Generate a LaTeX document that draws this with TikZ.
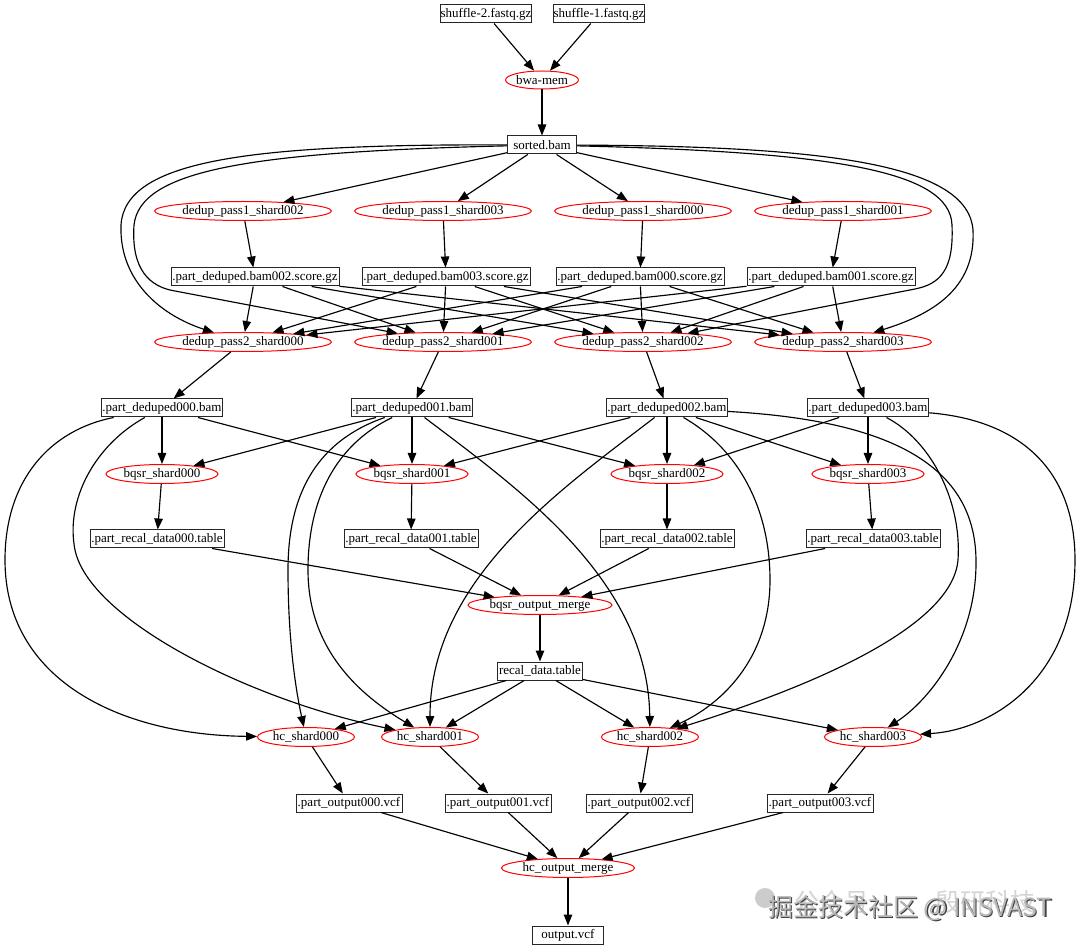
\documentclass[tikz,border=0pt]{standalone}
\usepackage{fontspec}
\setmainfont{Liberation Serif}
\newfontfamily\cjkwm{Noto Sans CJK SC}
\usetikzlibrary{arrows.meta,shapes.geometric}
\newcommand{\gvfont}{\fontsize{13}{15}\selectfont}
\tikzset{
  file/.style={draw=black!85, line width=1pt, rectangle, inner xsep=0.5pt, inner ysep=1pt, minimum height=18pt, font=\gvfont},
  task/.style={draw=red, line width=1pt, ellipse, inner xsep=-4pt, inner ysep=0pt, minimum height=19pt, font=\gvfont},
  link/.style={draw, line width=1.15pt, -{Triangle[length=11pt,width=8.5pt]}},
  wmark/.style={font=\cjkwm\fontsize{25}{25}\selectfont, inner sep=0pt},
}
\begin{document}
\begin{tikzpicture}[x=1pt,y=-1pt]
\useasboundingbox (0,0) rectangle (1080,949);

% ---------- nodes ----------
\node[file, minimum width=90pt] (shuf2) at (486,14) {shuffle-2.fastq.gz};
\node[file, minimum width=91pt] (shuf1) at (599,14) {shuffle-1.fastq.gz};
\node[task, minimum width=73pt, minimum height=18pt] (bwa) at (542,80) {bwa-mem};
\node[file, minimum width=69pt] (sorted) at (542,145) {sorted.bam};

\foreach \k/\x in {002/243,003/443,000/643,001/843}
  \node[task, minimum width=177pt] (p1\k) at (\x,211) {dedup\_pass1\_shard\k};
\foreach \k/\x in {002/255,003/446,000/640,001/831}
  \node[file, minimum width=168pt] (sc\k) at (\x,277) {.part\_deduped.bam\k.score.gz};
\foreach \k/\x in {000/243,001/443,002/643,003/843}
  \node[task, minimum width=177pt] (p2\k) at (\x,342) {dedup\_pass2\_shard\k};
\foreach \k/\x in {000/162,001/412,002/667,003/868}
  \node[file, minimum width=121pt] (dd\k) at (\x,408) {.part\_deduped\k.bam};
\foreach \k/\x in {000/162,001/412,002/667,003/868}
  \node[task, minimum width=112pt] (bq\k) at (\x,474) {bqsr\_shard\k};
\foreach \k/\x in {000/157,001/411,002/667,003/873}
  \node[file, minimum width=134pt] (rd\k) at (\x,539) {.part\_recal\_data\k.table};
\node[task, minimum width=144pt] (bqm) at (540,605) {bqsr\_output\_merge};
\node[file, minimum width=85pt] (recal) at (540,671) {recal\_data.table};
\foreach \k/\x in {000/306,001/430,002/650,003/873}
  \node[task, minimum width=97pt] (hc\k) at (\x,737) {hc\_shard\k};
\foreach \k/\x in {000/349,001/498,002/639,003/820}
  \node[file, minimum width=106pt] (po\k) at (\x,803) {.part\_output\k.vcf};
\node[task, minimum width=133pt] (hcm) at (568,868) {hc\_output\_merge};
\node[file, minimum width=71pt] (out) at (568,935) {output.vcf};

% ---------- edges ----------
\draw[link] (shuf2) -- (bwa);
\draw[link] (shuf1) -- (bwa);
\draw[link] (bwa) -- (sorted);
\foreach \k in {000,001,002,003} \draw[link] (sorted) -- (p1\k);

\draw[link] (sorted) .. controls (250,144) and (125,160) .. (121,225)
  .. controls (119,280) and (160,315) .. (p2000);
\draw[link] (sorted) .. controls (250,152) and (140,170) .. (134,225)
  .. controls (131,270) and (150,287) .. (175,291) -- (p2001);
\draw[link] (sorted) .. controls (830,152) and (950,170) .. (952,225)
  .. controls (954,270) and (940,284) .. (915,289) -- (p2002);
\draw[link] (sorted) .. controls (830,146) and (968,165) .. (973,230)
  .. controls (976,290) and (930,315) .. (p2003);

\foreach \k in {000,001,002,003} \draw[link] (p1\k) -- (sc\k);
\foreach \s in {000,001,002,003}
  \foreach \t in {000,001,002,003}
    \draw[link] (sc\s) -- (p2\t);
\foreach \k in {000,001,002,003} \draw[link] (p2\k) -- (dd\k);

\foreach \a/\b in {000/000,000/001,001/000,001/001,001/002,002/001,002/002,002/003,003/002,003/003}
  \draw[link] (dd\a) -- (bq\b);
\foreach \k in {000,001,002,003} \draw[link] (bq\k) -- (rd\k);
\foreach \k in {000,001,002,003} \draw[link] (rd\k) -- (bqm);
\draw[link] (bqm) -- (recal);
\foreach \k in {000,001,002,003} \draw[link] (recal) -- (hc\k);

% deduped bam -> haplotype caller shards
\draw[link] (dd000) .. controls (50,430) and (5,480) .. (5,560)
  .. controls (5,680) and (120,735) .. (hc000);
\draw[link] (dd000) .. controls (95,445) and (65,500) .. (75,550)
  .. controls (90,620) and (250,700) .. (hc001);
\draw[link] (dd001) .. controls (320,440) and (288,490) .. (288,570)
  .. controls (288,650) and (298,700) .. (hc000);
\draw[link] (dd001) .. controls (335,445) and (308,500) .. (308,570)
  .. controls (308,650) and (360,695) .. (hc001);
\draw[link] (dd001) .. controls (520,490) and (648,580) .. (hc002);
\draw[link] (dd002) .. controls (560,490) and (430,580) .. (hc001);
\draw[link] (dd002) .. controls (740,450) and (770,510) .. (770,580)
  .. controls (770,660) and (720,705) .. (hc002);
\draw[link] (dd002) .. controls (880,420) and (975,460) .. (976,560)
  .. controls (977,640) and (930,700) .. (hc003);
\draw[link] (dd003) .. controls (930,440) and (962,500) .. (958,560)
  .. controls (952,630) and (800,690) .. (hc002);
\draw[link] (dd003) .. controls (1020,420) and (1075,470) .. (1075,560)
  .. controls (1075,680) and (990,730) .. (hc003);

\foreach \k in {000,001,002,003} \draw[link] (hc\k) -- (po\k);
\foreach \k in {000,001,002,003} \draw[link] (po\k) -- (hcm);
\draw[link] (hcm) -- (out);

% ---------- watermark ----------
\fill[black!20] (765,898) circle (10);
\node[wmark, text=black!17] (wmbga) at (832,902) {公众号};
\node[wmark, text=black!17] (wmbgb) at (985,902) {殷研科技};
\node[wmark, text=black!75] (wmshadow) at (911.3,909.3) {掘金技术社区 @ INSVAST};
\node[wmark, text=black!28] (wm) at (910,908) {掘金技术社区 @ INSVAST};
\end{tikzpicture}
\end{document}
